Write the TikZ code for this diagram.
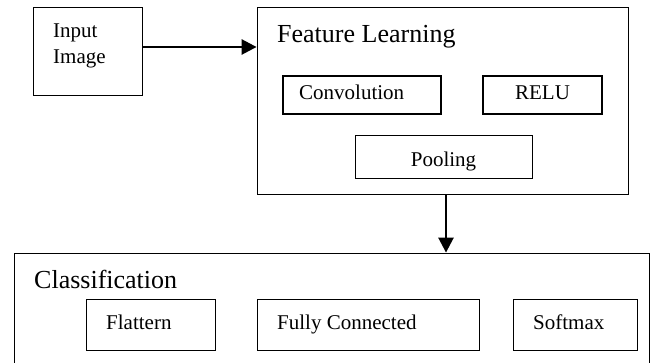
\documentclass[tikz,border=0pt]{standalone}
\usepackage{fontspec}
\setmainfont{Liberation Serif}
\usetikzlibrary{arrows.meta}
\begin{document}
\begin{tikzpicture}[x=1pt,y=-1pt,
  box/.style={draw, line width=0.8pt, inner sep=0pt, rectangle},
  boldbox/.style={box, line width=1.7pt},
  small/.style={inner sep=0pt, font=\fontsize{21}{26}\selectfont},
  big/.style={inner sep=0pt, font=\fontsize{26}{30}\selectfont},
  arr/.style={line width=2.6pt, -{Triangle[length=15pt,width=15pt]}}]
\path[use as bounding box, clip] (0,0) rectangle (654,363);
% boxes
\node[box, minimum width=109pt, minimum height=88pt] (input) at (87.5,51) {};
\node[box, minimum width=371pt, minimum height=187pt] (feature) at (442.5,100.5) {};
\node[boldbox, minimum width=158pt, minimum height=38pt] (conv) at (362,95) {};
\node[boldbox, minimum width=119pt, minimum height=38pt] (relu) at (542.5,95) {};
\node[box, minimum width=177pt, minimum height=43pt] (pool) at (443.5,156.5) {};
\node[box, minimum width=635pt, minimum height=113pt] (class) at (331.5,309.5) {};
\node[box, minimum width=129pt, minimum height=51pt] (flat) at (150.5,324.5) {};
\node[box, minimum width=222pt, minimum height=51pt] (fully) at (368,324.5) {};
\node[box, minimum width=124pt, minimum height=51pt] (soft) at (575,324.5) {};
% texts
\node[small, anchor=base west] (tinput) at (53,38) {Input};
\node[small, anchor=base west] (timage) at (53,64) {Image};
\node[big, anchor=base west] (tfeature) at (277,43) {Feature Learning};
\node[small, anchor=base west] (tconv) at (299,100) {Convolution};
\node[small, anchor=base] (trelu) at (542.5,100) {RELU};
\node[small, anchor=base] (tpool) at (443.5,167) {Pooling};
\node[big, anchor=base west] (tclass) at (34,289) {Classification};
\node[small, anchor=base west] (tflat) at (106,330) {Flattern};
\node[small, anchor=base west] (tfully) at (277,330) {Fully Connected};
\node[small, anchor=base west] (tsoft) at (533,330) {Softmax};
% arrows
\draw[arr] ([yshift=4pt]input.east) coordinate (a) -- (a -| feature.west);
\draw[arr] ([xshift=3.5pt]feature.south) coordinate (b) -- (b |- class.north);
\end{tikzpicture}
\end{document}
